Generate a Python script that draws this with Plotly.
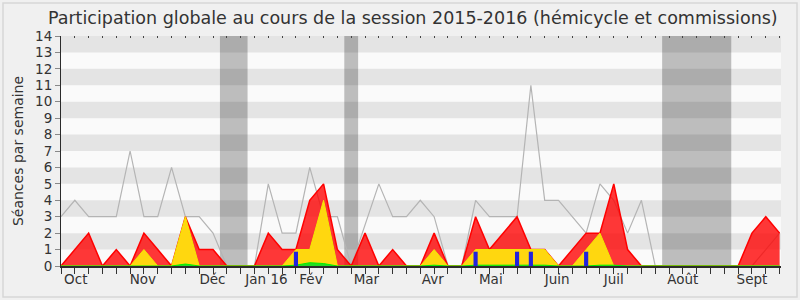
import plotly.graph_objects as go

# ---- data (weekly, Oct 2015 -> Sept 2016) ----
weeks = list(range(53))
total_seances = [3, 4, 3, 3, 3, 7, 3, 3, 6, 3, 3, 2, 0, 0, 0, 5, 2, 2, 6, 3,
                 3, 0, 2.5, 5, 3, 3, 4, 3, 0, 0, 4, 3, 3, 3, 11, 4, 4, 3, 2, 5,
                 4, 2, 4, 0, 0, 0, 0, 0, 0, 0, 0, 1, 2]
red_vals = [0, 1, 2, 0, 1, 0, 2, 1, 0, 3, 1, 1, 0, 0, 0, 2, 1, 1, 4, 5,
            1, 0, 2, 0, 1, 0, 0, 2, 0, 0, 3, 1, 2, 3, 1, 1, 0, 1, 2, 2,
            5, 1, 0, 0, 0, 0, 0, 0, 0, 0, 2, 3, 2]
yellow_vals = [0, 0, 0, 0, 0, 0, 1, 0, 0, 3, 0, 0, 0, 0, 0, 0, 0, 1, 1, 4,
               0, 0, 0, 0, 0, 0, 0, 1, 0, 0, 1, 1, 1, 1, 1, 1, 0, 0, 1, 2,
               0, 0, 0, 0, 0, 0, 0, 0, 0, 0, 0, 0, 0]
green_vals = [0, 0, 0, 0, 0, 0, 0, 0, 0, 0.12, 0, 0, 0, 0, 0, 0, 0, 0.05, 0.2, 0.15,
              0, 0, 0, 0, 0, 0, 0, 0.05, 0, 0, 0.05, 0.05, 0.05, 0.05, 0.05, 0.05, 0, 0, 0, 0.05,
              0.05, 0, 0, 0, 0, 0, 0, 0, 0, 0, 0, 0, 0]
blue_weeks = [17, 30, 33, 34, 38]
blue_vals = [0.87, 0.87, 0.87, 0.87, 0.87]
vacations = [(11.5, 13.5), (20.5, 21.5), (43.5, 48.5)]
month_labels = ["Oct", "Nov", "Déc", "Jan 16", "Fév", "Mar", "Avr", "Mai",
                "Juin", "Juil", "Août", "Sept"]
month_pos = [1.07, 5.92, 10.96, 14.87, 18.09, 22.1, 26.9, 31.1, 35.9, 40.0, 44.99, 50.0]
y_ticks = list(range(15))

FONT = "DejaVu Sans"
TXT = "#333333"

fig = go.Figure()
fig.add_trace(go.Scatter(x=weeks, y=total_seances, mode="lines",
                         line=dict(color="#b4b4b4", width=1.2), hoverinfo="skip"))
fig.add_trace(go.Scatter(x=weeks, y=red_vals, mode="lines", fill="tozeroy",
                         fillcolor="rgba(255,0,0,0.78)",
                         line=dict(color="#ff0000", width=1.5)))
fig.add_trace(go.Scatter(x=weeks, y=yellow_vals, mode="lines", fill="tozeroy",
                         fillcolor="#ffd70f",
                         line=dict(color="#f2ea00", width=1)))
fig.add_trace(go.Scatter(x=weeks, y=green_vals, mode="lines", fill="tozeroy",
                         fillcolor="#22dd22",
                         line=dict(color="#00ee00", width=1)))
# bars on an overlaying axis so they are drawn above the filled areas
fig.add_trace(go.Bar(x=blue_weeks, y=blue_vals, width=0.3, xaxis="x2", yaxis="y",
                     marker=dict(color="#2222dd", line=dict(width=0))))

shapes = []
for a, b in vacations:
    shapes.append(dict(type="rect", xref="x", yref="y domain", x0=a, x1=b, y0=0, y1=1,
                       fillcolor="#bdbdbd", line=dict(width=0), layer="below"))
for k in range(1, 14, 2):
    shapes.append(dict(type="rect", xref="x domain", yref="y", x0=0, x1=1, y0=k, y1=k + 1,
                       fillcolor="rgba(0,0,0,0.085)", line=dict(width=0), layer="below"))
# outer frame
shapes.append(dict(type="rect", xref="paper", yref="paper",
                   x0=-58 / 720, x1=1 + 16 / 720, y0=-31 / 230, y1=1 + 33 / 230,
                   fillcolor="rgba(0,0,0,0)", line=dict(color="#d6d6d6", width=1.5)))

fig.update_layout(
    width=800, height=300,
    margin=dict(l=61, r=19, t=36, b=34),
    paper_bgcolor="#f0f0f0", plot_bgcolor="#fafafa",
    showlegend=False, barmode="overlay",
    font=dict(family=FONT, size=13, color=TXT),
    title=dict(text="Participation globale au cours de la session 2015-2016 (hémicycle et commissions)",
               x=0.516, xanchor="center", y=0.94, yanchor="middle",
               font=dict(family=FONT, size=17.5, color=TXT)),
    shapes=shapes,
    xaxis=dict(range=[0, 52.1], tickvals=month_pos, ticktext=month_labels,
               ticks="", showgrid=False, zeroline=False,
               showline=True, linecolor="#2b2b2b", linewidth=1.5,
               tickfont=dict(family=FONT, size=13.5, color=TXT),
               minor=dict(tickvals=weeks, ticks="outside", ticklen=6,
                          tickcolor="#333333", tickwidth=1, showgrid=False)),
    xaxis2=dict(range=[0, 52.1], overlaying="x", side="top", tickvals=weeks,
                ticktext=[""] * len(weeks), ticks="inside", ticklen=2,
                tickcolor="#444444", showgrid=False, zeroline=False, showline=False),
    yaxis=dict(range=[0, 14], tickvals=y_ticks, ticks="outside", ticklen=5,
               tickcolor="#888888", showgrid=False, zeroline=False,
               showline=True, linecolor="#2b2b2b", linewidth=1,
               tickfont=dict(family=FONT, size=13.5, color=TXT),
               title=dict(text="Séances par semaine", standoff=8,
                          font=dict(family=FONT, size=14, color=TXT))),
)

fig.write_html("out.html")
